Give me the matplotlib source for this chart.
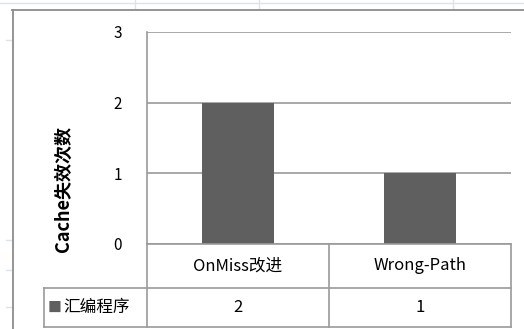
import matplotlib
matplotlib.use("Agg")
import matplotlib.pyplot as plt
from matplotlib.lines import Line2D

plt.rcParams['font.family'] = ['Noto Sans CJK SC', 'DejaVu Sans']

# data
categories = ["OnMiss改进", "Wrong-Path"]
series_name = "汇编程序"
values = [2, 1]
yticks = [0, 1, 2, 3]

W, H = 524, 329
fig = plt.figure(figsize=(W / 100, H / 100), dpi=100)


def fx(x):
    return x / W


def fy(y):
    return 1 - y / H


def hline(x0, x1, y, color="#9a9a9a", lw=1.2):
    fig.add_artist(Line2D([fx(x0), fx(x1)], [fy(y), fy(y)], color=color, lw=lw))


def vline(x, y0, y1, color="#9a9a9a", lw=1.2):
    fig.add_artist(Line2D([fx(x), fx(x)], [fy(y0), fy(y1)], color=color, lw=lw))


# faint sheet grid behind the chart
sheet = "#dde3ec"
hline(0, W, 3, color=sheet, lw=1)
for x in [135, 259, 453]:
    vline(x, 0, 8, color=sheet, lw=1)
for y in [40, 240, 270, 307]:
    hline(6, 12, y, color=sheet, lw=1)

# chart frame
hline(12, W, 10, color="#8c8c8c", lw=1.3)
vline(12.5, 10, H, color="#8c8c8c", lw=1.3)

# plot area
left, top, right, bottom = 147, 32, 511, 244
ax = fig.add_axes([fx(left), fy(bottom), (right - left) / W, (bottom - top) / H])
x = range(len(categories))
ax.bar(x, values, width=0.4, color="#5f5f5f", zorder=3)
ax.set_xlim(-0.5, len(categories) - 0.5)
ax.set_ylim(0, 3)
ax.set_yticks(yticks)
ax.set_yticklabels([str(t) for t in yticks], fontsize=11, color="#000000")
ax.tick_params(axis="y", length=0, pad=18)
ax.set_xticks([])
ax.grid(axis="y", color="#9a9a9a", lw=1.2, zorder=0)
for s in ["top", "right", "bottom"]:
    ax.spines[s].set_visible(False)
ax.spines["left"].set_color("#9a9a9a")
ax.spines["left"].set_linewidth(1.2)
ax.patch.set_alpha(0)

fig.text(fx(63), fy(189), "Cache失效次数", rotation=90, ha="center", va="center",
         fontsize=13, fontweight="bold")

# data table under the axis
col_w = (right - left) / len(categories)
row1, row2, row3 = bottom, 288, 327
hline(left, right, row1)
hline(44, right, row2)
hline(44, right, row3)
vline(44, row2, row3)
for i in range(len(categories) + 1):
    vline(left + i * col_w, row1, row3)

for i, (c, v) in enumerate(zip(categories, values)):
    cx = left + (i + 0.5) * col_w
    fig.text(fx(cx), fy((row1 + row2) / 2), c, ha="center", va="center", fontsize=12)
    fig.text(fx(cx), fy((row2 + row3) / 2), str(v), ha="center", va="center", fontsize=12)

fig.text(fx(48), fy((row2 + row3) / 2), "■", ha="left", va="center",
         fontsize=10, color="#5f5f5f")
fig.text(fx(63), fy((row2 + row3) / 2), series_name, ha="left", va="center", fontsize=12)

fig.savefig("out.png", dpi=100)
